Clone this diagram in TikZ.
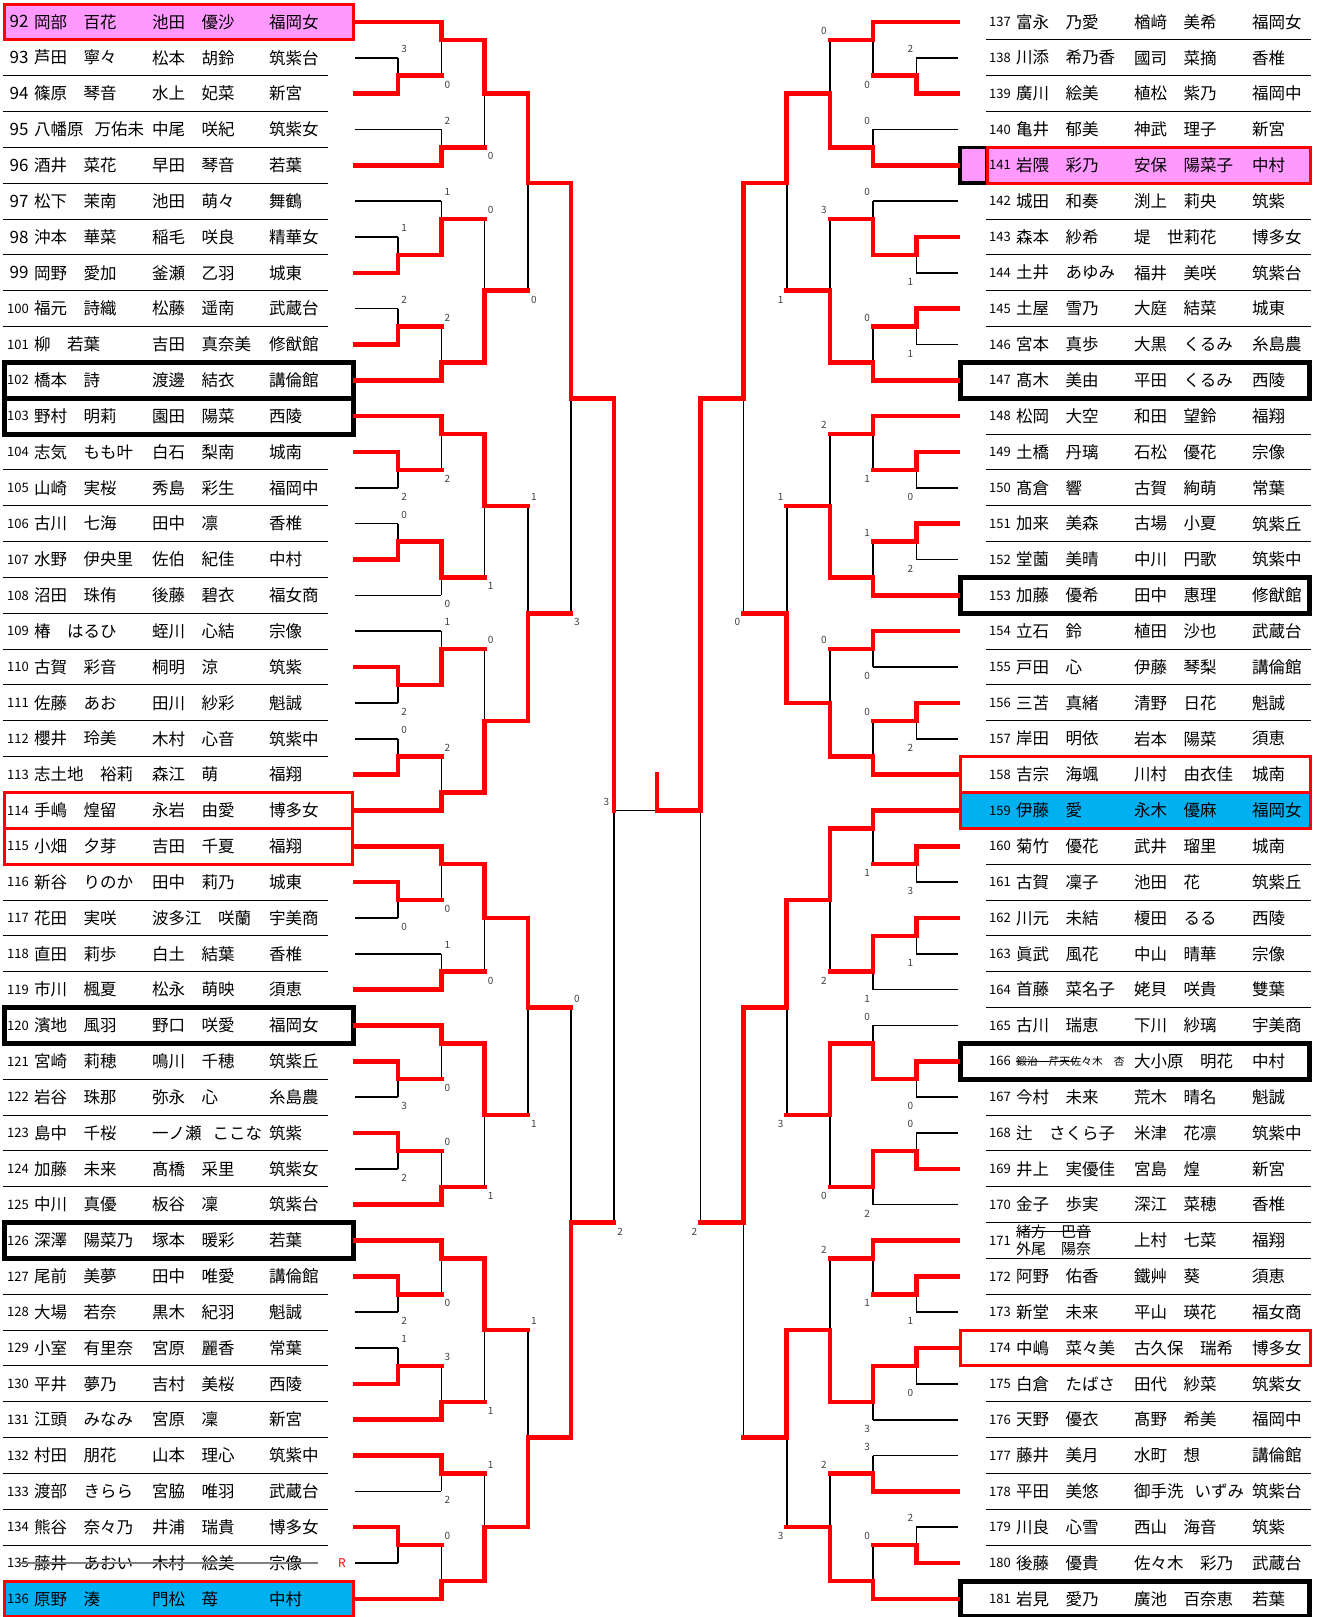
\documentclass[tikz,border=0pt]{standalone}
\usepackage{fontspec}
\setmainfont{Noto Sans CJK JP}
\usetikzlibrary{backgrounds, positioning}

\definecolor{winred}{RGB}{255,0,0}
\definecolor{finalpink}{RGB}{255,153,255}
\definecolor{thirdblue}{RGB}{0,176,240}
\definecolor{scoregray}{RGB}{64,64,64}

\tikzset{
	player/.style={anchor=west, inner sep=0pt, font=\fontsize{16.5}{18}\selectfont},
	seedno/.style={anchor=west, inner sep=0pt, font=\fontsize{17}{18}\selectfont},
	seedsmall/.style={anchor=west, inner sep=0pt, font=\fontsize{13}{14}\selectfont},
	smallname/.style={anchor=west, inner sep=0pt, font=\fontsize{10.8}{12}\selectfont},
	score/.style={inner sep=0pt, text=scoregray, font=\fontsize{10}{11}\selectfont},
	lost/.style={black, line width=1.6pt},
	won/.style={winred, line width=4.5pt, line cap=rect},
	rowline/.style={black, line width=1pt},
	blackframe/.style={black, line width=5pt},
	redframe/.style={winred, line width=3pt}
}

\begin{document}
\begin{tikzpicture}[x=1pt, y=-17.92pt]
\useasboundingbox (0,-0.2232) rectangle (1319,90.01);

	% --- rules between the entries
	\foreach \k in {2,4,...,88} {
		\draw[rowline] (3,\k) -- (328,\k);
		\draw[rowline] (986,\k) -- (1311,\k);
	}

	% --- coloured and framed entries
	\fill[finalpink] (4,0) rectangle (353,2);
	\draw[redframe] (4,0) rectangle (353,2);
	\draw[blackframe] (4.5,20) rectangle (353.5,22);
	\draw[blackframe] (4.5,22) rectangle (353.5,24);
	\draw[redframe] (4,44) rectangle (352.5,46);
	\draw[redframe] (4,46) rectangle (352.5,48);
	\draw[blackframe] (4.5,56) rectangle (353.5,58);
	\draw[blackframe] (4.5,68) rectangle (353.5,70);
	\fill[thirdblue] (4,88) rectangle (353,90);
	\draw[redframe] (4,88) rectangle (353,90);

	\fill[finalpink] (959,8) rectangle (1310,10);
	\draw[black, line width=3.5pt] (960,8) rectangle (987,10);
	\draw[redframe] (987,8) rectangle (1310,10);
	\draw[blackframe] (960.5,20) rectangle (1309.5,22);
	\draw[blackframe] (960.5,32) rectangle (1309.5,34);
	\draw[redframe] (960,42) rectangle (1310,44);
	\fill[thirdblue] (960,44) rectangle (1310,46);
	\draw[redframe] (960,44) rectangle (1310,46);
	\draw[blackframe] (960.5,58) rectangle (1309.5,60);
	\draw[redframe] (960,74) rectangle (1310,76);
	\draw[blackframe] (960.5,88) rectangle (1309.5,90);

	% --- left entries: number / player / partner / school
	\foreach \num/\pa/\pb/\sch [count=\i from 0] in {
		92/岡部　百花/池田　優沙/福岡女,
		93/芦田　寧々/松本　胡鈴/筑紫台,
		94/篠原　琴音/水上　妃菜/新宮,
		95/八幡原\hspace{11pt}万佑未/中尾　咲紀/筑紫女,
		96/酒井　菜花/早田　琴音/若葉,
		97/松下　茉南/池田　萌々/舞鶴,
		98/沖本　華菜/稲毛　咲良/精華女,
		99/岡野　愛加/釜瀬　乙羽/城東,
		100/福元　詩織/松藤　遥南/武蔵台,
		101/柳　若葉/吉田　真奈美/修猷館,
		102/橋本　詩/渡邊　結衣/講倫館,
		103/野村　明莉/園田　陽菜/西陵,
		104/志気　もも叶/白石　梨南/城南,
		105/山崎　実桜/秀島　彩生/福岡中,
		106/古川　七海/田中　凛/香椎,
		107/水野　伊央里/佐伯　紀佳/中村,
		108/沼田　珠侑/後藤　碧衣/福女商,
		109/椿　はるひ/蛭川　心結/宗像,
		110/古賀　彩音/桐明　涼/筑紫,
		111/佐藤　あお/田川　紗彩/魁誠,
		112/櫻井　玲美/木村　心音/筑紫中,
		113/志土地　裕莉/森江　萌/福翔,
		114/手嶋　煌留/永岩　由愛/博多女,
		115/小畑　夕芽/吉田　千夏/福翔,
		116/新谷　りのか/田中　莉乃/城東,
		117/花田　実咲/波多江　咲蘭/宇美商,
		118/直田　莉歩/白土　結葉/香椎,
		119/市川　楓夏/松永　萌映/須恵,
		120/濱地　風羽/野口　咲愛/福岡女,
		121/宮崎　莉穂/鳴川　千穂/筑紫丘,
		122/岩谷　珠那/弥永　心/糸島農,
		123/島中　千桜/一ノ瀬\hspace{11pt}ここな/筑紫,
		124/加藤　未来/髙橋　采里/筑紫女,
		125/中川　真優/板谷　凜/筑紫台,
		126/深澤　陽菜乃/塚本　暖彩/若葉,
		127/尾前　美夢/田中　唯愛/講倫館,
		128/大場　若奈/黒木　紀羽/魁誠,
		129/小室　有里奈/宮原　麗香/常葉,
		130/平井　夢乃/吉村　美桜/西陵,
		131/江頭　みなみ/宮原　凜/新宮,
		132/村田　朋花/山本　理心/筑紫中,
		133/渡部　きらら/宮脇　唯羽/武蔵台,
		134/熊谷　奈々乃/井浦　瑞貴/博多女,
		135/藤井　あおい/木村　絵美/宗像,
		136/原野　湊/門松　苺/中村} {
		\pgfmathtruncatemacro\k{2*\i+1}
		\ifnum\num<100 \node[seedno] (n\num) at (9.5,\k) {\num};
		\else \node[seedsmall] (n\num) at (7,\k) {\num}; \fi
		\node[player] (a\num) at (34,\k) {\pa};
		\node[player] (b\num) at (152,\k) {\pb};
		\node[player] (s\num) at (269,\k) {\sch};
	}

	% --- right entries
	\foreach \num/\pa/\pb/\sch [count=\i from 0] in {
		137/富永　乃愛/楢﨑　美希/福岡女,
		138/川添　希乃香/國司　菜摘/香椎,
		139/廣川　絵美/植松　紫乃/福岡中,
		140/亀井　郁美/神武　理子/新宮,
		141/岩隈　彩乃/安保　陽菜子/中村,
		142/城田　和奏/渕上　莉央/筑紫,
		143/森本　紗希/堤　世莉花/博多女,
		144/土井　あゆみ/福井　美咲/筑紫台,
		145/土屋　雪乃/大庭　結菜/城東,
		146/宮本　真歩/大黒　くるみ/糸島農,
		147/髙木　美由/平田　くるみ/西陵,
		148/松岡　大空/和田　望鈴/福翔,
		149/土橋　丹璃/石松　優花/宗像,
		150/髙倉　響/古賀　絢萌/常葉,
		151/加来　美森/古場　小夏/筑紫丘,
		152/堂薗　美晴/中川　円歌/筑紫中,
		153/加藤　優希/田中　惠理/修猷館,
		154/立石　鈴/植田　沙也/武蔵台,
		155/戸田　心/伊藤　琴梨/講倫館,
		156/三苫　真緒/清野　日花/魁誠,
		157/岸田　明依/岩本　陽菜/須恵,
		158/吉宗　海颯/川村　由衣佳/城南,
		159/伊藤　愛/永木　優麻/福岡女,
		160/菊竹　優花/武井　瑠里/城南,
		161/古賀　凜子/池田　花/筑紫丘,
		162/川元　未結/榎田　るる/西陵,
		163/眞武　風花/中山　晴華/宗像,
		164/首藤　菜名子/姥貝　咲貴/雙葉,
		165/古川　瑞恵/下川　紗璃/宇美商,
		166/{}/大小原　明花/中村,
		167/今村　未来/荒木　晴名/魁誠,
		168/辻　さくら子/米津　花凛/筑紫中,
		169/井上　実優佳/宮島　煌/新宮,
		170/金子　歩実/深江　菜穂/香椎,
		171/{}/上村　七菜/福翔,
		172/阿野　佑香/鐵艸　葵/須恵,
		173/新堂　未来/平山　瑛花/福女商,
		174/中嶋　菜々美/古久保　瑞希/博多女,
		175/白倉　たばさ/田代　紗菜/筑紫女,
		176/天野　優衣/髙野　希美/福岡中,
		177/藤井　美月/水町　想/講倫館,
		178/平田　美悠/御手洗\hspace{11pt}いずみ/筑紫台,
		179/川良　心雪/西山　海音/筑紫,
		180/後藤　優貴/佐々木　彩乃/武蔵台,
		181/岩見　愛乃/廣池　百奈恵/若葉} {
		\pgfmathtruncatemacro\k{2*\i+1}
		\node[seedsmall] (n\num) at (989,\k) {\num};
		\node[player] (a\num) at (1016,\k) {\pa};
		\node[player] (b\num) at (1134,\k) {\pb};
		\node[player] (s\num) at (1252,\k) {\sch};
	}

	% entries that were changed or withdrawn
	\node[smallname] (x166) at (1016,59) {鍛治　芹天};
	\node[smallname, right=0pt of x166] (y166) {佐々木　杏};
	\draw[line width=0.8pt] (x166.west) -- ([xshift=6pt]x166.east);
	\node[player, font=\fontsize{15}{16}\selectfont] (x171) at (1016,68.5) {緒方　巴音};
	\node[player, font=\fontsize{15}{16}\selectfont] (y171) at (1016,69.45) {外尾　陽奈};
	\draw[line width=1pt] (x171.west) -- (x171.east);
	\draw[gray, line width=1.5pt] (20,87) -- (318,87);
	\node[inner sep=0pt, text=winred, font=\fontsize{12}{12}\selectfont] (r135) at (342,87) {R};

	% --- stubs from the entries: row / first round / won
	\foreach \k/\c/\w in {1/2/1, 3/1/0, 5/1/1, 7/2/0, 9/2/1, 11/2/0, 13/1/0, 15/1/1,
		17/1/0, 19/1/1, 21/2/1, 23/2/1, 25/1/1, 27/1/0, 29/1/0, 31/1/1, 33/2/0, 35/2/0,
		37/1/1, 39/1/0, 41/1/0, 43/1/1, 45/2/1, 47/2/1, 49/1/1, 51/1/0, 53/2/0, 55/2/1,
		57/2/1, 59/1/1, 61/1/0, 63/1/1, 65/1/0, 67/2/1, 69/2/1, 71/1/1, 73/1/0, 75/1/0,
		77/1/1, 79/2/1, 81/2/1, 83/2/0, 85/1/1, 87/1/0, 89/2/1} {
		\ifnum\w=1 \draw[won] (355,\k) -- (355+43.2*\c,\k);
		\else \scoped[on background layer]\draw[lost] (355,\k) -- (355+43.2*\c,\k); \fi
	}
	\foreach \k/\c/\w in {1/2/1, 3/1/0, 5/1/1, 7/2/0, 9/2/1, 11/2/0, 13/1/1, 15/1/0,
		17/1/1, 19/1/0, 21/2/1, 23/2/1, 25/1/1, 27/1/0, 29/1/1, 31/1/0, 33/2/1, 35/2/1,
		37/2/0, 39/1/1, 41/1/0, 43/2/1, 45/2/1, 47/1/1, 49/1/0, 51/1/1, 53/1/0, 55/2/0,
		57/2/0, 59/1/1, 61/1/0, 63/1/0, 65/1/1, 67/2/0, 69/2/1, 71/1/1, 73/1/0, 75/1/1,
		77/1/0, 79/2/0, 81/2/0, 83/2/1, 85/1/0, 87/1/1, 89/2/1} {
		\ifnum\w=1 \draw[won] (958,\k) -- (959.5-43.2*\c,\k);
		\else \scoped[on background layer]\draw[lost] (958,\k) -- (959.5-43.2*\c,\k); \fi
	}

	% --- left matches: round / winner end / loser end / out / loser score
	\foreach \c/\w/\l/\o/\s in {
		1/5/3/4/3, 1/15/13/14/1, 1/19/17/18/2, 1/25/27/26/2, 1/31/29/30/0,
		1/37/39/38/2, 1/43/41/42/0, 1/49/51/50/0, 1/59/61/60/3, 1/63/65/64/2,
		1/71/73/72/2, 1/77/75/76/1, 1/85/87/86/{},
		2/1/4/2/0, 2/9/7/8/2, 2/14/11/12/1, 2/21/18/20/2, 2/23/26/24/2,
		2/30/33/32/0, 2/38/35/36/1, 2/45/42/44/2, 2/47/50/48/0, 2/55/53/54/1,
		2/57/60/58/0, 2/67/64/66/0, 2/69/72/70/0, 2/79/76/78/3, 2/81/83/82/2,
		2/89/86/88/0,
		3/2/8/5/0, 3/20/12/16/0, 3/24/32/28/1, 3/44/36/40/0,
		3/48/54/51/0, 3/58/66/62/1, 3/70/78/74/1, 3/88/82/85/1,
		4/5/16/10/0, 4/40/28/34/1, 4/51/62/56/1, 4/85/74/80/1,
		5/10/34/22/3, 5/80/56/68/0} {
		\pgfmathsetmacro\cx{355+43.2*\c}
		\pgfmathsetmacro\ly{\l+0.5*sign(\l-\w)}
		\scoped[on background layer]\draw[lost] (\cx,\w) -- (\cx,\l);
		\draw[won] (\cx,\w) -- (\cx,\o) -- (\cx+43.2,\o);
		\node[score] (L\c-\o) at (\cx+6,\ly) {\s};
	}

	% --- right matches
	\foreach \c/\w/\l/\o/\s in {
		1/5/3/4/2, 1/13/15/14/1, 1/17/19/18/1, 1/25/27/26/0, 1/29/31/30/2,
		1/39/41/40/2, 1/47/49/48/3, 1/51/53/52/1, 1/59/61/60/0, 1/65/63/64/0,
		1/71/73/72/1, 1/75/77/76/0, 1/87/85/86/2,
		2/1/4/2/0, 2/9/7/8/0, 2/14/11/12/0, 2/21/18/20/0, 2/23/26/24/1,
		2/33/30/32/1, 2/35/37/36/0, 2/43/40/42/0, 2/45/48/46/1, 2/52/55/54/1,
		2/60/57/58/0, 2/64/67/66/2, 2/69/72/70/1, 2/76/79/78/3, 2/83/81/82/3,
		2/89/86/88/0,
		3/8/2/5/0, 3/20/12/16/3, 3/32/24/28/2, 3/42/36/39/0,
		3/46/54/50/2, 3/58/66/62/0, 3/78/70/74/2, 3/88/82/85/2,
		4/5/16/10/1, 4/39/28/34/1, 4/50/62/56/3, 4/74/85/80/3,
		5/10/34/22/0, 5/56/80/68/{}} {
		\pgfmathsetmacro\cx{959.5-43.2*\c}
		\pgfmathsetmacro\ly{\l+0.5*sign(\l-\w)}
		\scoped[on background layer]\draw[lost] (\cx,\w) -- (\cx,\l);
		\draw[won] (\cx,\w) -- (\cx,\o) -- (\cx-43.2,\o);
		\node[score] (R\c-\o) at (\cx-6,\ly) {\s};
	}

	% --- semi-finals and final
	\scoped[on background layer]\draw[lost] (614.2,22) -- (614.2,68);
	\scoped[on background layer]\draw[lost] (614.2,45) -- (657.2,45);
	\draw[won] (614.2,22) -- (614.2,45);
	\scoped[on background layer]\draw[lost] (700.3,22) -- (700.3,68);
	\draw[won] (700.3,22) -- (700.3,45) -- (657.2,45) -- (657.2,43);
	\node[score] (L6) at (620.2,68.5) {2};
	\node[score] (R6) at (694.3,68.5) {2};
	\node[score] (final) at (606.5,44.5) {3};

\end{tikzpicture}
\end{document}
